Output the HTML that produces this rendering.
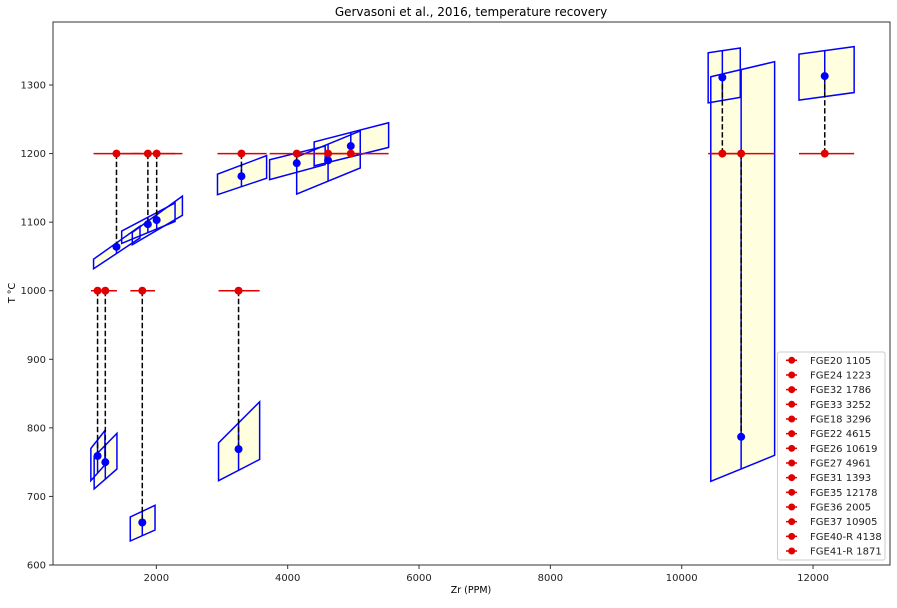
<!DOCTYPE html>
<html><head><meta charset="utf-8"><style>
body{margin:0;background:#fff;font-family:"Liberation Sans","DejaVu Sans",sans-serif}
svg text{font-family:"DejaVu Sans","Liberation Sans",sans-serif}
</style></head><body>
<svg id="chart" width="897" height="603" xmlns="http://www.w3.org/2000/svg"></svg>
<script>
const names=["FGE20","FGE24","FGE32","FGE33","FGE18","FGE22","FGE26","FGE27","FGE31","FGE35","FGE36","FGE37","FGE40-R","FGE41-R"];
const zr=[1105,1223,1786,3252,3296,4615,10619,4961,1393,12178,2005,10905,4138,1871];
const tSet=[1000,1000,1000,1000,1200,1200,1200,1200,1200,1200,1200,1200,1200,1200];
const tCalc=[759,750,662,769,1167,1190,1311,1211,1064,1313,1103,787,1186,1097];
const xLo=[1003,1053,1603,2947,2931,4137,10403,4403,1044,11786,1634,10443,3725,1472];
const xHi=[1217,1400,1980,3573,3679,5105,10892,5537,1751,12626,2397,11415,4571,2285];
const tLoL=[723,711,635,723,1140,1141,1274,1182,1032,1278,1067,722,1162,1069];
const tHiL=[770,758,670,778,1170,1195,1347,1217,1046,1345,1085,1312,1191,1087];
const tLoR=[746,740,651,754,1164,1179,1282,1209,1077,1289,1110,760,1184,1101];
const tHiR=[796,792,687,838,1197,1233,1354,1245,1094,1356,1138,1334,1211,1128];
const xTicks=[2000,4000,6000,8000,10000,12000];
const yTicks=[600,700,800,900,1000,1100,1200,1300];

const NS="http://www.w3.org/2000/svg";
const svg=document.getElementById('chart');
const L=53,R=890,T=22,B=565;
const X=v=>25.0+v*0.06567;
const Y=v=>565-(v-600)*0.685714;
function mk(tag,attrs,parent){const e=document.createElementNS(NS,tag);for(const k in attrs)e.setAttribute(k,attrs[k]);(parent||svg).appendChild(e);return e;}

let t=mk('text',{x:471,y:16,'font-size':12,'text-anchor':'middle',fill:'#000'});t.textContent="Gervasoni et al., 2016, temperature recovery";



const plot=mk('g',{});



for(let i=0;i<zr.length;i++){
  const pts=[[X(xLo[i]),Y(tLoL[i])],[X(xHi[i]),Y(tLoR[i])],[X(xHi[i]),Y(tHiR[i])],[X(xLo[i]),Y(tHiL[i])]].map(p=>p.join(',')).join(' ');
  const p=mk('polygon',{points:pts,fill:'#ffffe0',stroke:'none'},plot);
  
  
}
for(let i=0;i<zr.length;i++){
  const pts=[[X(xLo[i]),Y(tLoL[i])],[X(xHi[i]),Y(tLoR[i])],[X(xHi[i]),Y(tHiR[i])],[X(xLo[i]),Y(tHiL[i])]].map(p=>p.join(',')).join(' ');
  const p=mk('polygon',{points:pts,fill:'none',stroke:'#0000ff','stroke-width':1.5},plot);
  
  
  const f=(zr[i]-xLo[i])/(xHi[i]-xLo[i]);
  const lo=tLoL[i]+f*(tLoR[i]-tLoL[i]), hi=tHiL[i]+f*(tHiR[i]-tHiL[i]);
  const eb=mk('line',{x1:X(zr[i]),x2:X(zr[i]),y1:Y(lo),y2:Y(hi),stroke:'#0000ff','stroke-width':1.5},plot);
  
  
}
for(let i=0;i<zr.length;i++){
  const d=mk('line',{x1:X(zr[i]),x2:X(zr[i]),y1:Y(tSet[i]),y2:Y(tCalc[i]),stroke:'#000','stroke-width':1.5,'stroke-dasharray':'5.5,2.5'},plot);
  
  
  const r=mk('line',{x1:X(xLo[i]),x2:X(xHi[i]),y1:Y(tSet[i]),y2:Y(tSet[i]),stroke:'#e00000','stroke-width':1.5},plot);
  
  
}
for(let i=0;i<zr.length;i++){
  const c=mk('circle',{cx:X(zr[i]),cy:Y(tSet[i]),r:4,fill:'#e00000'},plot);
  
  
  const b=mk('circle',{cx:X(zr[i]),cy:Y(tCalc[i]),r:4,fill:'#0000ff'},plot);
  
  
}

const fr=mk('rect',{x:L,y:T,width:R-L,height:B-T,fill:'none',stroke:'#333','stroke-width':1});


xTicks.forEach(v=>{
  mk('line',{x1:X(v),x2:X(v),y1:B,y2:B+4,stroke:'#333'});
  const tx=mk('text',{x:X(v),y:B+16,'font-size':10,'text-anchor':'middle',fill:'#222'});tx.textContent=v;
  
  
});
yTicks.forEach(v=>{
  mk('line',{x1:L-4,x2:L,y1:Y(v),y2:Y(v),stroke:'#333'});
  const tx=mk('text',{x:L-7,y:Y(v)+3.5,'font-size':10,'text-anchor':'end',fill:'#222'});tx.textContent=v;
  
  
});
t=mk('text',{x:471,y:593,'font-size':9.5,'text-anchor':'middle',fill:'#000'});t.textContent="Zr (PPM)";


t=mk('text',{x:15,y:293,'font-size':9.5,'text-anchor':'middle',fill:'#000',transform:'rotate(-90 15 293)'});t.textContent="T °C";



const lg=mk('g',{});


mk('rect',{x:777.5,y:352,width:107.5,height:208,rx:2,fill:'#fff','fill-opacity':0.8,stroke:'#ccc'},lg);
for(let i=0;i<names.length;i++){
  const y=360.3+i*14.67;
  const g=mk('g',{},lg);
  
  
  mk('line',{x1:786,x2:797,y1:y,y2:y,stroke:'#e00000','stroke-width':1.5},g);
  mk('circle',{cx:791.7,cy:y,r:3.5,fill:'#e00000'},g);
  const tx=mk('text',{x:810,y:y+3.5,'font-size':10,fill:'#222'},g);tx.textContent=names[i]+" "+zr[i];
}
</script>
</body></html>
